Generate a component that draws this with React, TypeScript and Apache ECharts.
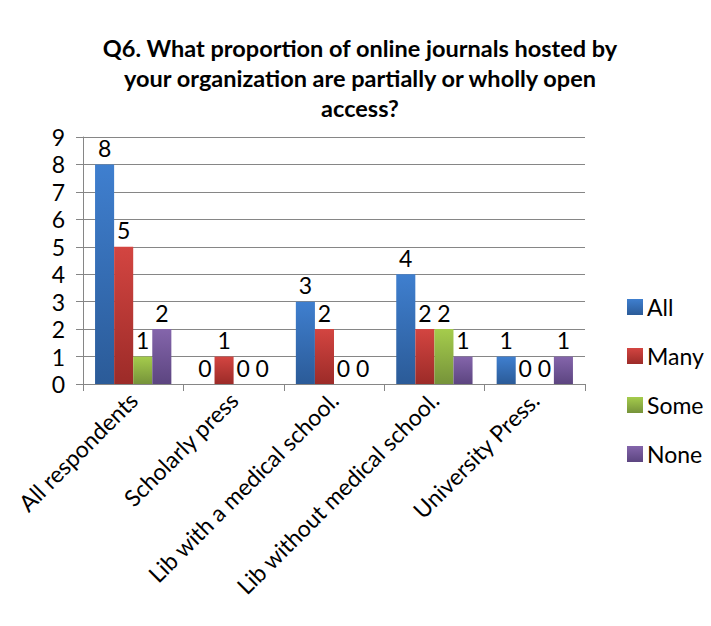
import React, { useEffect, useRef } from "react";
import * as echarts from "echarts";

const categories = [
  "All respondents",
  "Scholarly press",
  "Lib with a medical school.",
  "Lib without medical school.",
  "University Press.",
];
const seriesNames = ["All", "Many", "Some", "None"];
const allValues = [8, 0, 3, 4, 1];
const manyValues = [5, 1, 2, 2, 0];
const someValues = [1, 0, 0, 2, 0];
const noneValues = [2, 0, 0, 1, 1];
const yTicks = [0, 1, 2, 3, 4, 5, 6, 7, 8, 9];

const FONT = "Lato, 'Open Sans', sans-serif";

function grad(top: string, bottom: string) {
  return new echarts.graphic.LinearGradient(0, 0, 0, 1, [
    { offset: 0, color: top },
    { offset: 1, color: bottom },
  ]);
}

export default function App() {
  const ref = useRef<HTMLDivElement>(null);
  useEffect(() => {
    document.body.style.margin = "0";
    if (!ref.current) return;
    const chart = echarts.init(ref.current, undefined, { renderer: "svg" });
    const colors = [
      ["#3f7fcf", "#2b5b98"],
      ["#d34541", "#9c2b28"],
      ["#a5cc4c", "#76933a"],
      ["#8465ab", "#5c4580"],
    ];
    const data = [allValues, manyValues, someValues, noneValues];
    chart.setOption({
      animation: false,
      backgroundColor: "#ffffff",
      title: {
        text: "Q6. What proportion of online journals hosted by\nyour organization are partially or wholly open\naccess?",
        left: 355,
        textAlign: "center",
        top: 28,
        textStyle: {
          fontFamily: FONT,
          fontWeight: "bold",
          fontSize: 23.5,
          lineHeight: 30,
          color: "#000",
        },
      },
      legend: {
        orient: "vertical",
        left: 622,
        top: 290,
        itemWidth: 16,
        itemHeight: 16,
        itemGap: 25,
        icon: "rect",
        textStyle: { fontFamily: FONT, fontSize: 23, lineHeight: 24, color: "#000", padding: [0, 0, 0, -1] },
        data: seriesNames,
      },
      grid: { left: 83, right: 126, top: 137, bottom: 242, containLabel: false },
      xAxis: {
        type: "category",
        data: categories,
        axisLine: { lineStyle: { color: "#868686" } },
        axisTick: { show: true, length: 7, lineStyle: { color: "#868686" } },
        axisLabel: {
          rotate: 45,
          interval: 0,
          fontFamily: FONT,
          fontSize: 23,
          color: "#000",
          margin: 12,
        },
      },
      yAxis: {
        type: "value",
        min: 0,
        max: 9,
        interval: 1,
        axisLine: { show: true, lineStyle: { color: "#868686" } },
        axisTick: { show: true, length: 7, lineStyle: { color: "#868686" } },
        splitLine: { lineStyle: { color: "#868686", width: 1 } },
        axisLabel: {
          fontFamily: FONT,
          fontSize: 23,
          color: "#000",
          margin: 18,
          formatter: (v: number) => (yTicks.includes(v) ? String(v) : ""),
        },
      },
      series: seriesNames.map((name, i) => ({
        name,
        type: "bar",
        data: data[i],
        barGap: "0%",
        barCategoryGap: "24%",
        itemStyle: { color: grad(colors[i][0], colors[i][1]) },
        label: {
          show: true,
          position: "top",
          distance: 5,
          fontFamily: FONT,
          fontSize: 23,
          color: "#000",
        },
      })),
    });
    return () => chart.dispose();
  }, []);
  return <div ref={ref} style={{ width: 711, height: 626 }} />;
}
